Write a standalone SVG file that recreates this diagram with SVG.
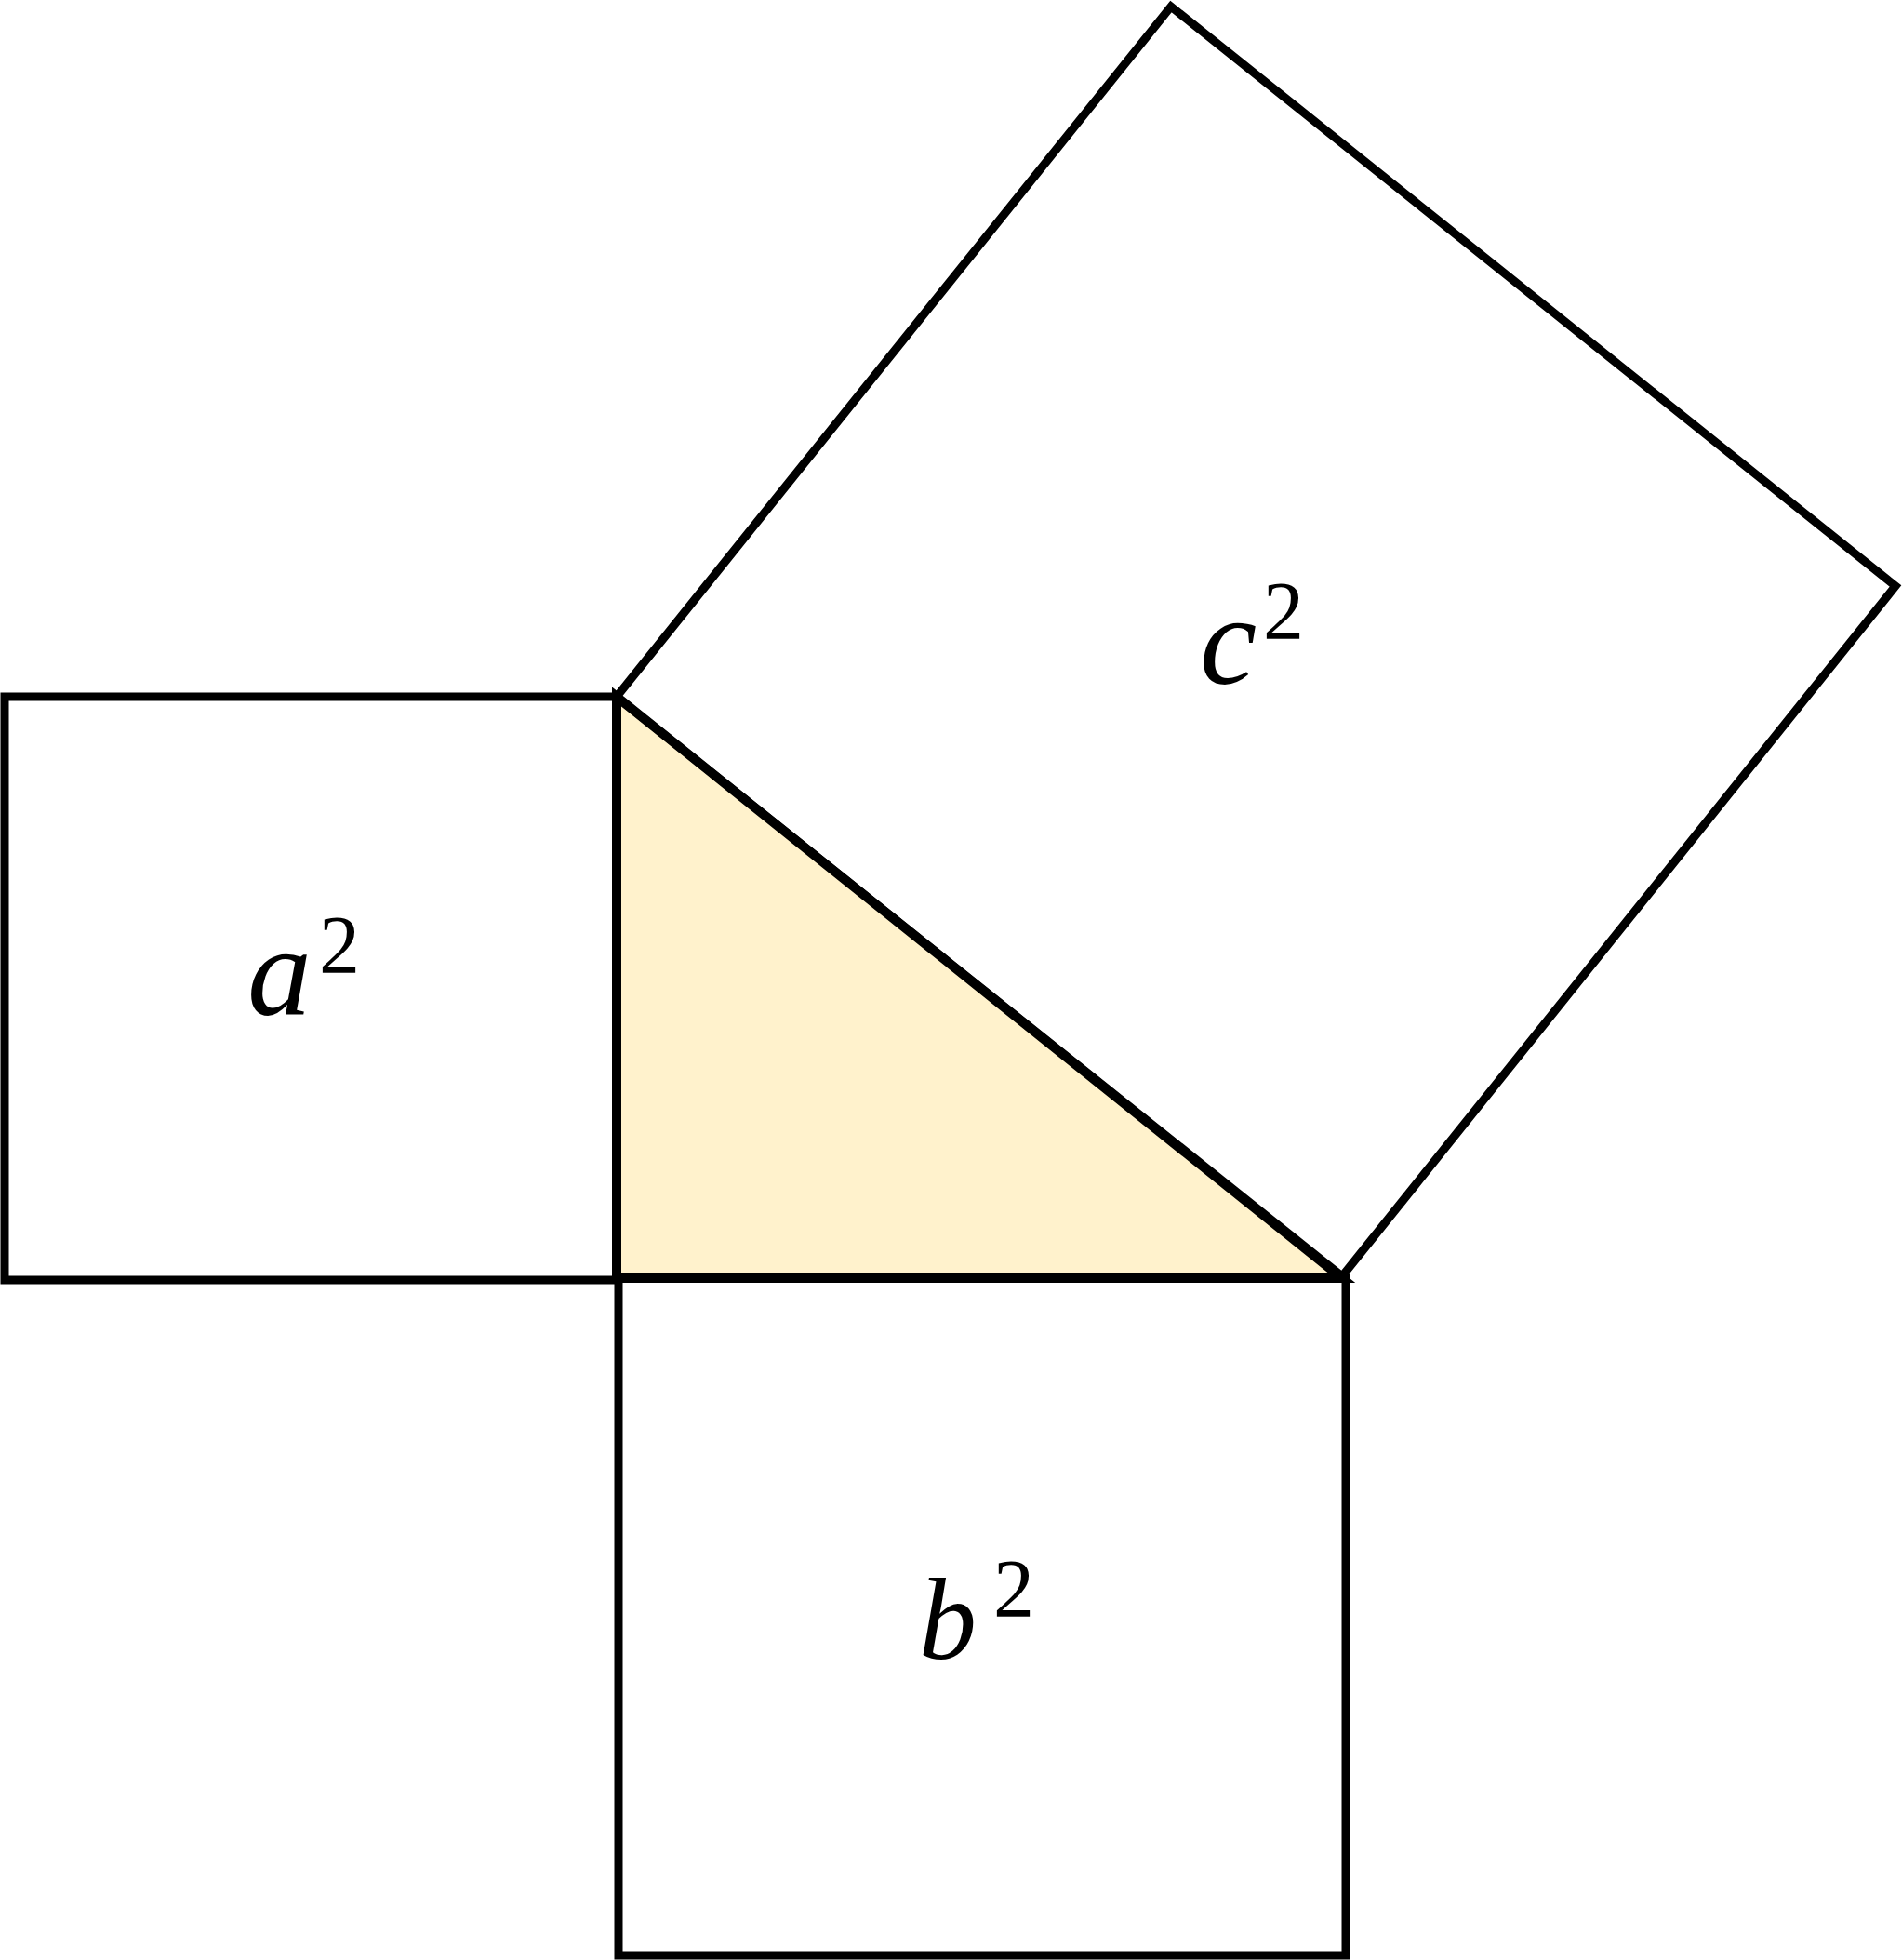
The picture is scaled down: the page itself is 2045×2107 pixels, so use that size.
<svg xmlns="http://www.w3.org/2000/svg" width="2045" height="2107" viewBox="0 0 2045 2107">
<style>
.sq{fill:none;stroke:#000;stroke-width:9;stroke-linejoin:miter}
.tri{fill:#FFF2CC;stroke:#000;stroke-width:10;stroke-linejoin:miter}
.lbl{font-family:"Liberation Serif","DejaVu Serif",serif;font-style:italic;font-size:124px;fill:#000}
.big{font-size:138px}
.sup{font-family:"Liberation Serif","DejaVu Serif",serif;font-style:normal;font-size:88px;fill:#000}
</style>
<rect width="2045" height="2107" fill="#fff"/>
<g id="triangle">
<polygon class="tri" points="663,749 663,1374 1443,1374"/>
</g>
<g id="square-a">
<rect class="sq" x="5" y="749" width="658" height="627"/>
<text class="lbl big" x="266" y="1091">a</text>
<text class="sup" x="343" y="1045">2</text>
</g>
<g id="square-b">
<rect class="sq" x="665" y="1374" width="782" height="728"/>
<text class="lbl" x="988" y="1783">b</text>
<text class="sup" x="1068" y="1737">2</text>
</g>
<g id="square-c">
<polygon class="sq" points="663,749 1259,7 2038,630 1443,1372"/>
<text class="lbl big" x="1290" y="735">c</text>
<text class="sup" x="1358" y="686">2</text>
</g>
<g id="connectors"></g>
</svg>
